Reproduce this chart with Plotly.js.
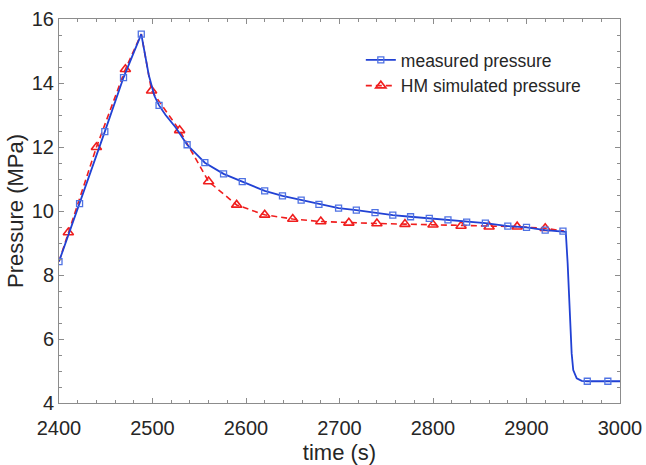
<!DOCTYPE html>
<html><head><meta charset="utf-8">
<script src="https://cdn.plot.ly/plotly-3.0.1.min.js"></script>
<style>html,body{margin:0;padding:0;background:#fff}</style>
</head><body><div id="chart" style="width:646px;height:465px"></div>
<script>
// Measured pressure: line vertices, with a flag for those carrying a square marker
const measuredTime = [2400, 2422, 2449, 2469, 2488, 2496, 2502, 2507, 2514, 2525, 2537, 2556, 2576, 2596, 2620, 2639, 2659, 2678, 2699, 2718, 2738, 2757, 2776, 2796, 2816, 2836, 2856, 2880, 2900, 2920, 2939, 2942, 2944, 2945.5, 2947, 2948.3, 2950, 2953.7, 2959, 2965, 2987, 3000];
const measuredPressure = [8.42, 10.23, 12.48, 14.17, 15.53, 14.25, 13.6, 13.3, 13.0, 12.6, 12.07, 11.51, 11.16, 10.92, 10.63, 10.47, 10.34, 10.21, 10.09, 10.03, 9.95, 9.87, 9.82, 9.77, 9.72, 9.65, 9.62, 9.53, 9.49, 9.40, 9.37, 9.35, 8.37, 7.32, 6.28, 5.55, 5.03, 4.77, 4.69, 4.68, 4.68, 4.68];
const measuredHasMarker = [1,1,1,1,1,0,0,1,0,0,1,1,1,1,1,1,1,1,1,1,1,1,1,1,1,1,1,1,1,1,1,0,0,0,0,0,0,0,0,1,1,0];

// HM simulated pressure
const simulatedTime = [2400, 2410, 2440, 2471, 2488, 2499, 2529, 2560, 2590, 2620, 2650, 2680, 2710, 2740, 2770, 2800, 2830, 2860, 2890, 2920, 2940];
const simulatedPressure = [8.42, 9.33, 11.99, 14.43, 15.53, 13.76, 12.52, 10.92, 10.19, 9.88, 9.75, 9.67, 9.63, 9.61, 9.59, 9.57, 9.53, 9.51, 9.51, 9.46, 9.37];
const simulatedHasMarker = [0,1,1,1,0,1,1,1,1,1,1,1,1,1,1,1,1,1,1,1,0];

const seriesNames = ['measured pressure', 'HM simulated pressure'];
const xTickValues = [2400, 2500, 2600, 2700, 2800, 2900, 3000];
const yTickValues = [4, 6, 8, 10, 12, 14, 16];
const xTitle = 'time (s)';
const yTitle = 'Pressure (MPa)';

const BLUE = '#2141d4', BLUE_M = '#4f72e3', RED = '#f01e1e';
const FONT = 'Arial, "Liberation Sans", Helvetica, sans-serif';
const TXT = '#262626', AX = '#8c8c8c';

function pick(arr, flags) { return arr.filter((_, i) => flags[i]); }

const traces = [
  {x: simulatedTime, y: simulatedPressure, mode: 'lines', showlegend: false,
   line: {color: RED, width: 1.6, dash: '6px,4px'}, hoverinfo: 'skip'},
  {x: pick(simulatedTime, simulatedHasMarker), y: pick(simulatedPressure, simulatedHasMarker), mode: 'markers', showlegend: false,
   marker: {symbol: 'triangle-up-open', size: 9, color: RED, line: {width: 1.6, color: RED}}},
  {x: measuredTime, y: measuredPressure, mode: 'lines', showlegend: false,
   line: {color: BLUE, width: 1.8}, hoverinfo: 'skip'},
  {x: pick(measuredTime, measuredHasMarker), y: pick(measuredPressure, measuredHasMarker), mode: 'markers', showlegend: false,
   marker: {symbol: 'square-open', size: 6, color: BLUE_M, line: {width: 1.3, color: BLUE_M}}},
  // legend entries
  {x: [null], y: [null], mode: 'lines+markers', name: seriesNames[0],
   line: {color: BLUE, width: 1.8}, marker: {symbol: 'square-open', size: 6, color: BLUE_M, line: {width: 1.3, color: BLUE_M}}},
  {x: [null], y: [null], mode: 'lines+markers', name: seriesNames[1],
   line: {color: RED, width: 1.6, dash: '6px,4px'}, marker: {symbol: 'triangle-up-open', size: 9, color: RED, line: {width: 1.6, color: RED}}}
];

const axisCommon = {
  showline: true, linecolor: AX, linewidth: 1, mirror: 'ticks',
  ticks: 'inside', ticklen: 5, tickcolor: AX, tickwidth: 1,
  showgrid: false, zeroline: false,
  tickfont: {family: FONT, size: 20, color: TXT}
};

const layout = {
  width: 646, height: 465,
  margin: {l: 59, r: 26, t: 19, b: 62},
  paper_bgcolor: '#fff', plot_bgcolor: '#fff',
  font: {family: FONT, color: TXT},
  xaxis: Object.assign({}, axisCommon, {
    range: [2400, 3000], tickvals: xTickValues, ticktext: xTickValues.map(String),
    ticklabelstandoff: 7,
    minor: {dtick: 20, tick0: 2400, ticks: 'inside', ticklen: 3, tickcolor: AX},
    title: {text: xTitle, font: {family: FONT, size: 22, color: TXT}, standoff: 8}
  }),
  yaxis: Object.assign({}, axisCommon, {
    range: [4, 16], tickvals: yTickValues, ticktext: yTickValues.map(String),
    minor: {dtick: 0.5, tick0: 4, ticks: 'inside', ticklen: 3, tickcolor: AX},
    title: {text: yTitle, font: {family: FONT, size: 22, color: TXT}, standoff: 2}
  }),
  legend: {x: 0.538, xanchor: 'left', y: 0.94, yanchor: 'top', bgcolor: 'rgba(0,0,0,0)',
    font: {family: FONT, size: 17.5, color: TXT}, tracegroupgap: 0},
  showlegend: true
};

Plotly.newPlot('chart', traces, layout, {displayModeBar: false, staticPlot: true});
</script>
</body></html>
